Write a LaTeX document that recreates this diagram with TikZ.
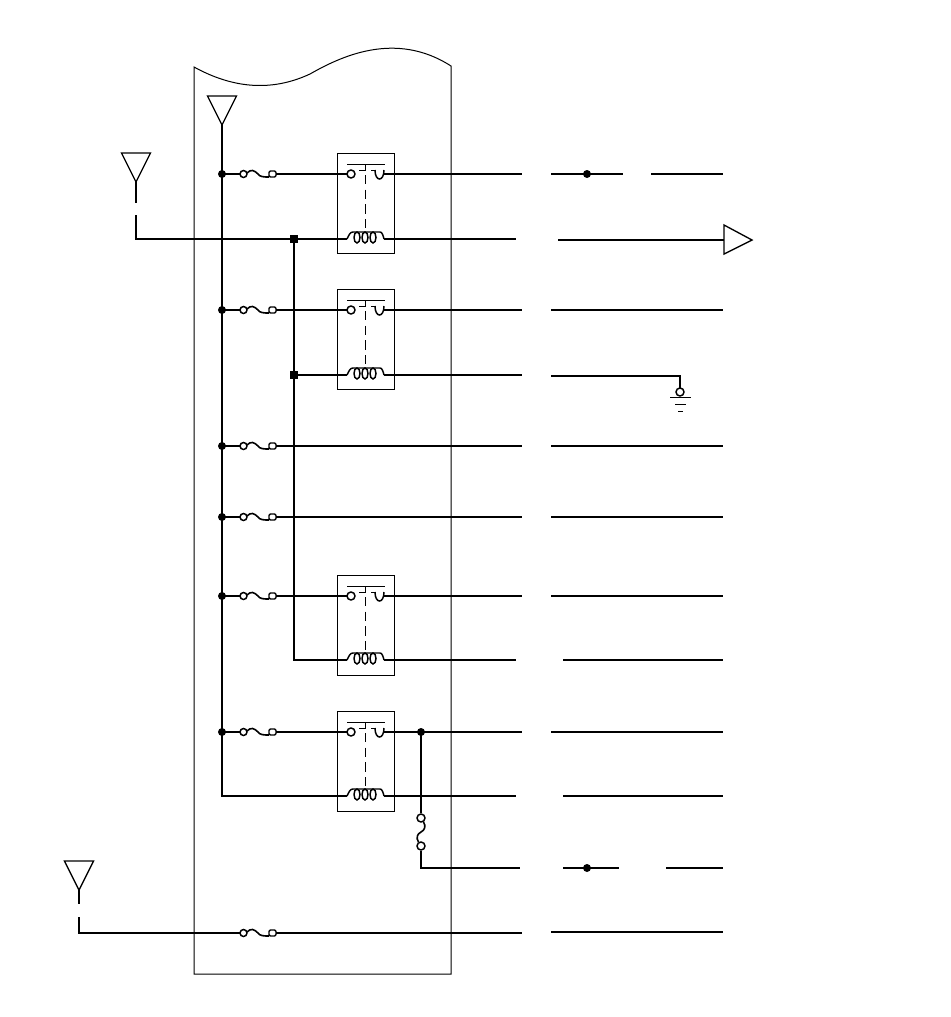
\documentclass[tikz,border=0pt]{standalone}
\usepackage{tikz}
\tikzset{wire/.style={line width=1.6pt},thin line/.style={line width=0.75pt},dot/.style={circle,fill=black,inner sep=0pt,minimum size=6pt}}
\tikzset{fuse/.pic={
  \draw[line width=1.1pt] (3.5,0) circle[radius=3.5];
  \draw[line width=1.2pt] (7,-1) .. controls (11,-5) and (14,-4) .. (18,0) .. controls (20,3) and (24,3) .. (29,3);
  \draw[line width=1.1pt,rounded corners=1pt] (29,-3) rectangle (36,3);
  \coordinate (in) at (0,0);
  \coordinate (out) at (36,0);
}}
\tikzset{relay/.pic={
  \draw[thin line] (0,0) rectangle (57,100);
  \draw[thin line] (10,11) -- (48,11);
  \draw[thin line] (28,11) -- (28,17) -- (22,17);
  \draw[thin line] (34,17) -- (39,17);
  \draw[thin line,dash pattern=on 7pt off 4pt] (28,22) -- (28,79);
  \draw[line width=1.1pt] (14,21) circle[radius=4];
  \draw[line width=1.1pt] (38,17) .. controls (38,29) and (47,29) .. (47,17);
  \coordinate (a) at (10,21);
  \coordinate (b) at (47,21);
}}
\tikzset{coil/.pic={
  \draw[line width=1.1pt] (0,0) .. controls (2,-4) and (3,-7) .. (6,-7) -- (33,-7) .. controls (35,-7) and (36,-4) .. (37,0);
  \foreach \cx in {10,18,26}
    \draw[line width=1.1pt,fill=white] (\cx,-1.5) ellipse[x radius=3,y radius=5.5];
  \coordinate (c) at (0,0);
  \coordinate (d) at (37,0);
}}
\tikzset{antenna/.pic={
  \draw[line width=1pt] (-14.5,-29) -- (14.5,-29) -- (0,0) -- cycle;
  \coordinate (tip) at (0,0);
}}
\begin{document}
\begin{tikzpicture}[x=0.75pt,y=-0.75pt]
\useasboundingbox (0,0) rectangle (950,1017);
% housing
\coordinate (hTL) at (194,67);
\coordinate (hTR) at (451,66);
\coordinate (hBL) at (194,974);
\coordinate (hBR) at (451,974);
\draw[thin line] (hTL) .. controls (225,84) and (265,95) .. (310,74) .. controls (340,57) and (395,30) .. (hTR) -- (hBR) -- (hBL) -- cycle;
% relays
\pic (r1) at (337,153) {relay};
\pic (r2) at (337,289) {relay};
\pic (r3) at (337,575) {relay};
\pic (r4) at (337,711) {relay};
\pic (q1) at (347,239) {coil};
\pic (q2) at (347,375) {coil};
\pic (q3) at (347,660) {coil};
\pic (q4) at (347,796) {coil};
% fuses
\pic (f1) at (240,174) {fuse};
\pic (f2) at (240,310) {fuse};
\pic (f3) at (240,446) {fuse};
\pic (f4) at (240,517) {fuse};
\pic (f5) at (240,596) {fuse};
\pic (f6) at (240,732) {fuse};
\pic (f7) at (240,933) {fuse};
% antennas
\pic (top) at (222,125) {antenna};
\pic (left) at (136,182) {antenna};
\pic (low) at (79,890) {antenna};
% bus 1
\coordinate (bus) at (222,796);
\node[dot] (j1) at (222,174) {};
\node[dot] (j2) at (222,310) {};
\node[dot] (j3) at (222,446) {};
\node[dot] (j4) at (222,517) {};
\node[dot] (j5) at (222,596) {};
\node[dot] (j6) at (222,732) {};
\draw[wire] (toptip) -- (bus) -- (q4c);
\draw[wire] (j1.center) -- (f1in);
\draw[wire] (j2.center) -- (f2in);
\draw[wire] (j3.center) -- (f3in);
\draw[wire] (j4.center) -- (f4in);
\draw[wire] (j5.center) -- (f5in);
\draw[wire] (j6.center) -- (f6in);
\draw[wire] (f1out) -- (r1a);
\draw[wire] (f2out) -- (r2a);
\draw[wire] (f5out) -- (r3a);
\draw[wire] (f6out) -- (r4a);
% bus 2
\node[dot,rectangle] (k1) at (294,239) {};
\node[dot,rectangle] (k2) at (294,375) {};
\coordinate (k3) at (294,660);
\draw[wire] (k1.center) -- (k3) -- (q3c);
\draw[wire] (k2.center) -- (q2c);
% input from the left antenna
\coordinate (s1) at (136,203);
\coordinate (s2) at (136,215);
\coordinate (s3) at (136,239);
\draw[wire] (lefttip) -- (s1);
\draw[wire] (s2) -- (s3) -- (q1c);
% low antenna
\coordinate (l1) at (79,904);
\coordinate (l2) at (79,917);
\coordinate (l3) at (79,933);
\coordinate (l4) at (522,933);
\draw[wire] (lowtip) -- (l1);
\draw[wire] (l2) -- (l3) -- (f7in);
\draw[wire] (f7out) -- (l4);
% row 1
\coordinate (a1) at (522,174);
\coordinate (a2) at (551,174);
\coordinate (a3) at (623,174);
\coordinate (a4) at (651,174);
\coordinate (a5) at (723,174);
\node[dot] (m1) at (587,174) {};
\draw[wire] (r1b) -- (a1);
\draw[wire] (a2) -- (a3);
\draw[wire] (a4) -- (a5);
% row 2, output
\coordinate (b1) at (516,239);
\coordinate (b2) at (558,240);
\coordinate (b3) at (724,240);
\coordinate (b4) at (724,225);
\coordinate (b5) at (752,240);
\coordinate (b6) at (724,254);
\draw[wire] (q1d) -- (b1);
\draw[wire] (b2) -- (b3);
\draw[line width=1pt] (b4) -- (b5) -- (b6) -- cycle;
% plain rows
\coordinate (c1) at (522,310);
\coordinate (c2) at (551,310);
\coordinate (c3) at (723,310);
\draw[wire] (r2b) -- (c1);
\draw[wire] (c2) -- (c3);
\coordinate (e1) at (522,446);
\coordinate (e2) at (551,446);
\coordinate (e3) at (723,446);
\draw[wire] (f3out) -- (e1);
\draw[wire] (e2) -- (e3);
\coordinate (g1) at (522,517);
\coordinate (g2) at (551,517);
\coordinate (g3) at (723,517);
\draw[wire] (f4out) -- (g1);
\draw[wire] (g2) -- (g3);
\coordinate (h1) at (522,596);
\coordinate (h2) at (551,596);
\coordinate (h3) at (723,596);
\draw[wire] (r3b) -- (h1);
\draw[wire] (h2) -- (h3);
\coordinate (i1) at (516,660);
\coordinate (i2) at (563,660);
\coordinate (i3) at (723,660);
\draw[wire] (q3d) -- (i1);
\draw[wire] (i2) -- (i3);
% ground row
\coordinate (n1) at (522,375);
\coordinate (n2) at (551,376);
\coordinate (n3) at (680,376);
\coordinate (n4) at (680,388);
\draw[wire] (q2d) -- (n1);
\draw[wire] (n2) -- (n3) -- (n4);
\node[circle,draw,line width=1.1pt,inner sep=0pt,minimum size=6pt] (gnd) at (680,392) {};
\draw[thin line] (670,397) -- (691,397);
\draw[thin line] (675,404) -- (686,404);
\draw[thin line] (678,411) -- (683,411);
% relay 4 rows
\node[dot] (t1) at (421,732) {};
\coordinate (t2) at (522,732);
\coordinate (t3) at (551,732);
\coordinate (t4) at (723,732);
\draw[wire] (r4b) -- (t2);
\draw[wire] (t3) -- (t4);
\coordinate (u1) at (516,796);
\coordinate (u2) at (563,796);
\coordinate (u3) at (723,796);
\draw[wire] (q4d) -- (u1);
\draw[wire] (u2) -- (u3);
% vertical fuse link
\node[circle,draw,line width=1.1pt,inner sep=0pt,minimum size=6pt] (v1) at (421,818) {};
\node[circle,draw,line width=1.1pt,inner sep=0pt,minimum size=6pt] (v2) at (421,846) {};
\draw[wire] (t1.center) -- (v1);
\draw[line width=1.2pt] (v1) .. controls (426,826) and (425,830) .. (421,832) .. controls (417,834) and (416,838) .. (v2);
\coordinate (v3) at (421,868);
\coordinate (v4) at (520,868);
\draw[wire] (v2) -- (v3) -- (v4);
\coordinate (w1) at (563,868);
\coordinate (w2) at (619,868);
\coordinate (w3) at (666,868);
\coordinate (w4) at (723,868);
\node[dot] (m2) at (587,868) {};
\draw[wire] (w1) -- (w2);
\draw[wire] (w3) -- (w4);
% last row
\coordinate (z1) at (551,932);
\coordinate (z2) at (723,932);
\draw[wire] (z1) -- (z2);
\end{tikzpicture}
\end{document}
